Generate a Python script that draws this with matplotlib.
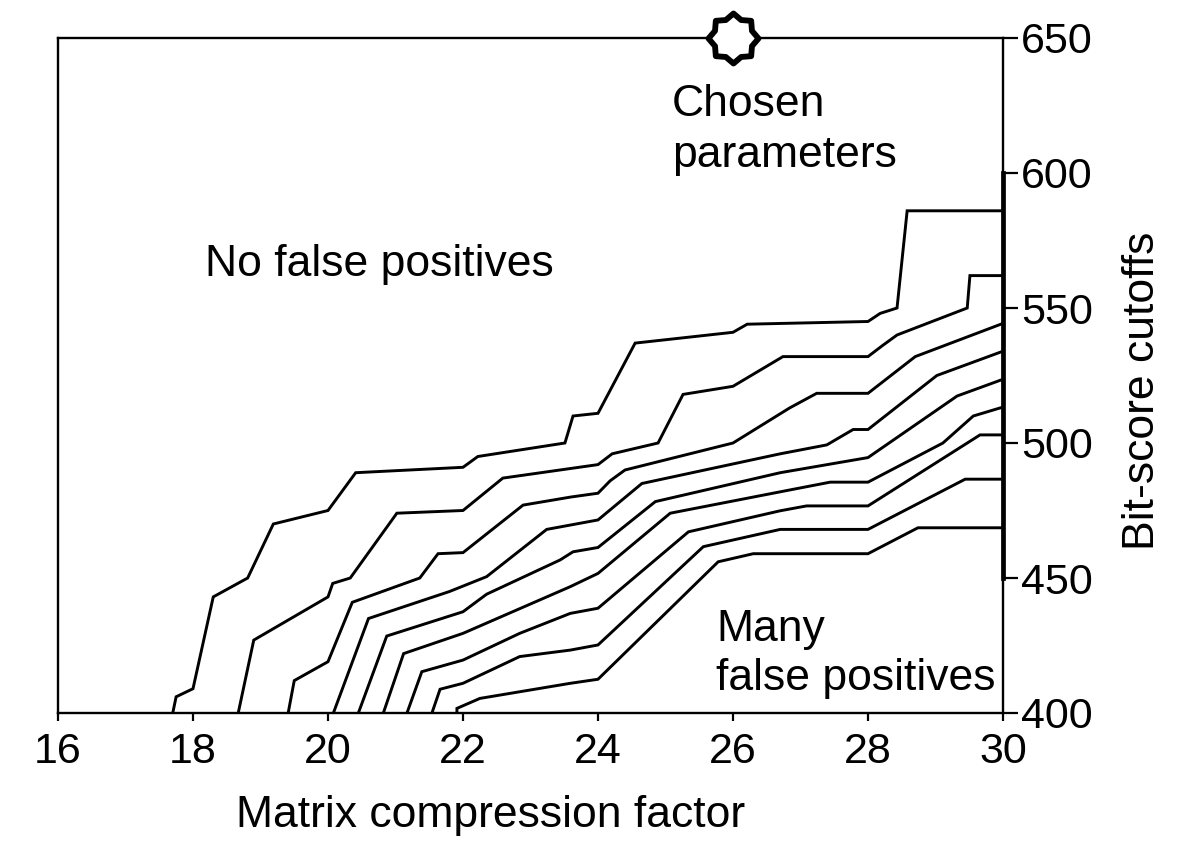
import matplotlib.pyplot as plt
from matplotlib.path import Path

plt.rcParams['font.family'] = ['Liberation Sans', 'DejaVu Sans']

# Curvas de corte (x = factor de compresion, y = bit-score)
x1 = [17.70, 17.75, 18.0, 18.30, 18.81, 19.19, 20.0, 20.41, 22.0, 22.22, 23.51, 23.63, 24.0, 24.55, 26.0, 26.21, 28.0, 28.18, 28.43, 28.58, 30.0]
y1 = [400, 406, 409, 443, 450, 470, 475, 489, 491, 495, 500, 510, 511, 537, 541, 544, 545, 548, 550, 586, 586]

x2 = [18.67, 18.90, 20.0, 20.07, 20.33, 21.02, 22.0, 22.59, 24.0, 24.21, 24.89, 25.26, 26.0, 26.74, 28.0, 28.21, 28.43, 29.47, 29.51, 30.0]
y2 = [400, 427, 443, 448, 450, 474, 475, 487, 492, 496, 500, 518, 521, 532, 532, 536, 540, 550, 562, 562]

x3 = [19.41, 19.50, 20.0, 20.36, 21.36, 21.63, 22.0, 22.89, 23.6, 24.0, 24.18, 24.4, 26.0, 26.84, 27.24, 28.0, 28.70, 30.0]
y3 = [400, 412, 419, 441, 450, 459, 459.4, 477, 480, 481.4, 486, 490, 500, 513, 518.4, 518.4, 532, 544.3]

x4 = [20.08, 20.60, 21.8, 22.35, 23.24, 24.0, 24.65, 26.7, 27.39, 27.78, 28.0, 29.02, 30.0]
y4 = [400, 435, 445, 450.5, 468, 471.5, 485, 496, 499.3, 505, 505, 525, 534]

x5 = [20.45, 20.87, 22.0, 22.35, 23.44, 23.63, 24.0, 24.85, 26.7, 28.0, 29.32, 30.0]
y5 = [400, 428.5, 437.5, 444, 456.7, 459.7, 461.3, 478.3, 489, 494.6, 517.4, 523.6]

x6 = [20.82, 21.12, 22.0, 23.59, 24.0, 25.07, 26.84, 27.44, 28.0, 29.11, 29.56, 30.0]
y6 = [400, 422, 429.5, 446.8, 451.7, 474, 482.6, 485.5, 485.5, 500, 510, 513.3]

x7 = [21.17, 21.39, 22.0, 22.84, 23.59, 24.0, 25.34, 26.7, 27.09, 28.0, 29.66, 30.0]
y7 = [400, 415.3, 419.6, 429.5, 436.9, 438.8, 467.1, 474.9, 476.7, 476.7, 503, 503]

x8 = [21.54, 21.66, 22.0, 22.84, 23.59, 24.0, 25.56, 26.7, 28.0, 29.44, 30.0]
y8 = [400, 408.8, 411, 420.9, 423.3, 425.2, 461.6, 468, 468, 486.6, 486.6]

x9 = [21.91, 21.91, 22.25, 23.59, 24.0, 25.78, 26.3, 28.0, 28.74, 30.0]
y9 = [400, 401.7, 405.4, 411, 412.5, 456, 459, 459, 468.6, 468.6]

curvas = [(x1, y1), (x2, y2), (x3, y3), (x4, y4), (x5, y5),
          (x6, y6), (x7, y7), (x8, y8), (x9, y9)]

# Parametros elegidos
x_elegido = 26
y_elegido = 650

x_ticks = [16, 18, 20, 22, 24, 26, 28, 30]
y_ticks = [400, 450, 500, 550, 600, 650]

fig = plt.figure(figsize=(12, 8.61), dpi=100)
ax = fig.add_axes([58 / 1200, 1 - 713 / 861, (1003 - 58) / 1200, (713 - 38) / 861])

for xs, ys in curvas:
    ax.plot(xs, ys, color='black', linewidth=2.1, solid_joinstyle='miter')

# Estrella de 8 puntas para los parametros elegidos
estrella = Path.unit_regular_star(8, 0.8)
ax.plot([x_elegido], [y_elegido], marker=estrella, markersize=36,
        markerfacecolor='white', markeredgecolor='black', markeredgewidth=4.2,
        clip_on=False, zorder=10)

ax.set_xlim(16, 30)
ax.set_ylim(400, 650)
ax.set_xticks(x_ticks)
ax.set_yticks(y_ticks)

ax.yaxis.tick_right()
ax.yaxis.set_label_position('right')
ax.tick_params(axis='x', direction='out', length=6, width=1.6, labelsize=31, pad=8)
ax.tick_params(axis='y', direction='out', length=11, width=1.6, labelsize=31, pad=2)

for s in ax.spines.values():
    s.set_linewidth(1.7)

# tramo grueso del eje derecho entre 450 y 600
ax.plot([30, 30], [450, 600], color='black', linewidth=3.4, clip_on=False, zorder=5)

ax.set_xlabel("Matrix compression factor", fontsize=32)
ax.xaxis.set_label_coords((491 - 58) / 945, (713 - 815) / 675)
ax.set_ylabel("Bit-score cutoffs", fontsize=32)
ax.yaxis.set_label_coords((1142 - 58) / 945, (713 - 391) / 675)
ax.xaxis.label.set_va('center')
ax.yaxis.label.set_va('center')

ax.text(18.18, 566, "No false positives", fontsize=32, ha='left', va='center')
ax.text(25.1, 616, "Chosen\nparameters", fontsize=32, ha='left', va='center', linespacing=1.3)
ax.text(25.75, 422, "Many\nfalse positives", fontsize=32, ha='left', va='center', linespacing=1.25)

plt.savefig('out.png', dpi=100)
plt.close()
